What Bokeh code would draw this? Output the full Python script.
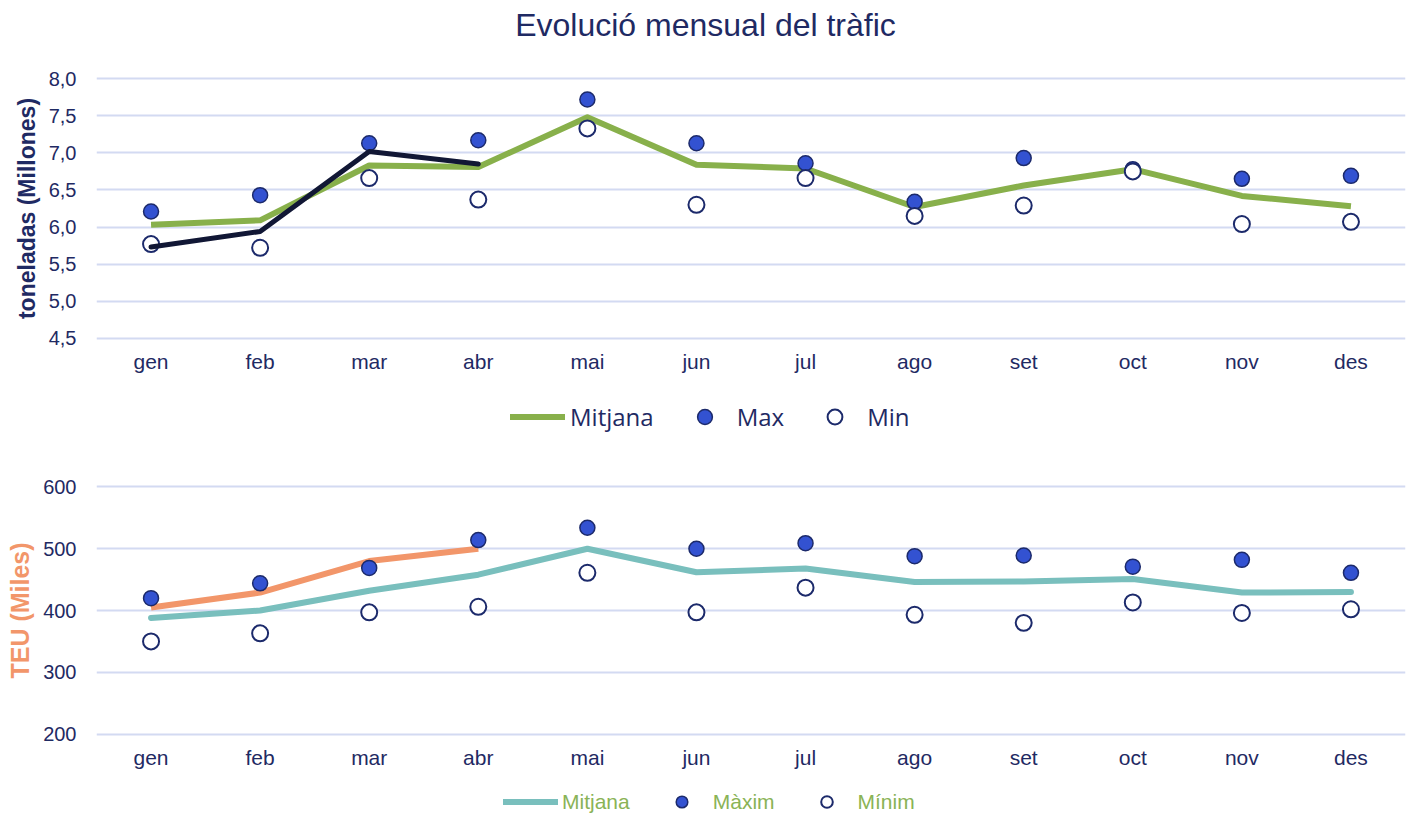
from bokeh.plotting import figure
from bokeh.models import (FactorRange, Range1d, FixedTicker, CustomJSTickFormatter,
                          Legend, LegendItem, Label, ColumnDataSource)
from bokeh.layouts import column
from bokeh.embed import file_html
from bokeh.resources import INLINE

# ---------------- data ----------------
months = ["gen", "feb", "mar", "abr", "mai", "jun", "jul", "ago", "set", "oct", "nov", "des"]

ton_mitjana = [6.03, 6.09, 6.83, 6.81, 7.48, 6.84, 6.79, 6.27, 6.56, 6.78, 6.42, 6.28]
ton_max = [6.21, 6.43, 7.13, 7.17, 7.72, 7.13, 6.86, 6.34, 6.93, 6.78, 6.65, 6.69]
ton_min = [5.77, 5.72, 6.66, 6.37, 7.33, 6.30, 6.66, 6.15, 6.29, 6.75, 6.04, 6.07]
ton_actual = [5.73, 5.94, 7.02, 6.85]
ton_ticks = [4.5, 5.0, 5.5, 6.0, 6.5, 7.0, 7.5, 8.0]

teu_mitjana = [388, 400, 432, 458, 500, 462, 468, 446, 447, 451, 429, 430]
teu_max = [420, 444, 469, 514, 534, 500, 509, 488, 489, 471, 482, 461]
teu_min = [350, 363, 397, 406, 461, 397, 437, 393, 380, 413, 396, 402]
teu_actual = [405, 429, 480, 500]
teu_ticks = [200, 300, 400, 500, 600]

title_text = "Evolució mensual del tràfic"
top_legend = ["Mitjana", "Max", "Min"]
bottom_legend = ["Mitjana", "Màxim", "Mínim"]

# ---------------- style ----------------
NAVY = "#1f2a63"
GRID = "#d3daf2"
GREEN = "#88b04b"
DARKLINE = "#111735"
BLUE = "#3352d1"
MARKER_EDGE = "#1c2a6b"
TEAL = "#79bfbd"
ORANGE = "#f2966a"
LEG_GREEN = "#8ab356"
FONT = "Liberation Sans"
W = 1408
LEFT = 96
RIGHT = 3


def blank(height, xr=(0, 1), yr=(0, 1)):
    f = figure(width=W, height=height, x_range=Range1d(*xr), y_range=Range1d(*yr),
               min_border_left=LEFT, min_border_right=RIGHT, min_border_top=0, min_border_bottom=0,
               x_axis_location=None, y_axis_location=None,
               output_backend="svg", toolbar_location=None, outline_line_color=None,
               background_fill_color="white", border_fill_color="white")
    f.xgrid.visible = False
    f.ygrid.visible = False
    return f


def chart(yr, frame_h, top, bottom):
    return figure(x_range=FactorRange(*months), y_range=Range1d(*yr),
                  width=W, frame_height=frame_h,
                  min_border_left=LEFT, min_border_right=RIGHT,
                  min_border_top=top, min_border_bottom=bottom,
                  output_backend="svg", toolbar_location=None, outline_line_color=None,
                  background_fill_color="white", border_fill_color="white")


def style_axes(p, tick_size, label_size, ylab_size, ylab_standoff):
    for ax in (p.xaxis[0], p.yaxis[0]):
        ax.axis_line_color = None
        ax.major_tick_line_color = None
        ax.minor_tick_line_color = None
        ax.major_label_text_font = FONT
        ax.major_label_text_color = NAVY
    p.xaxis.major_label_text_font_size = label_size
    p.xaxis.major_label_standoff = 3
    p.yaxis.major_label_text_font_size = tick_size
    p.yaxis.major_label_standoff = 14
    p.yaxis.axis_label_text_font = FONT
    p.yaxis.axis_label_text_font_style = "bold"
    p.yaxis.axis_label_text_font_size = ylab_size
    p.yaxis.axis_label_standoff = ylab_standoff
    p.xgrid.grid_line_color = None
    p.ygrid.grid_line_color = GRID
    p.ygrid.grid_line_width = 2


def legend_fig(height, labels, line_color, line_width, font, size, color, loc,
               spacing, standoff, glyph_h):
    f = blank(height)
    # legend swatches only: one point far outside the visible range
    r_line = f.line(x=[-5, -4], y=[-5, -5], line_color=line_color, line_width=line_width, line_cap="round")
    r_max = f.scatter(x=[-5], y=[-5], size=15, fill_color=BLUE, line_color=MARKER_EDGE, line_width=1.5)
    r_min = f.scatter(x=[-5], y=[-5], size=15, fill_color="white", line_color=MARKER_EDGE, line_width=2)
    leg = Legend(items=[LegendItem(label=labels[0], renderers=[r_line]),
                        LegendItem(label=labels[1], renderers=[r_max]),
                        LegendItem(label=labels[2], renderers=[r_min])],
                 orientation="horizontal", location=loc,
                 glyph_width=55, glyph_height=glyph_h, label_standoff=standoff, spacing=spacing,
                 padding=0, margin=0, border_line_color=None, background_fill_alpha=0,
                 label_text_font=font, label_text_font_size=size, label_text_color=color)
    f.add_layout(leg)
    return f


# ---------------- title ----------------
p0 = blank(58, xr=(LEFT, W - RIGHT), yr=(0, 58))
p0.add_layout(Label(x=705, y=34, text=title_text, text_align="center",
                    text_baseline="alphabetic", text_font=FONT, text_font_size="32px",
                    text_color=NAVY))

# ---------------- top chart ----------------
p1 = chart((4.47, 8.03), 264, 18, 50)
style_axes(p1, "20px", "21px", "23px", 6)
p1.yaxis.ticker = FixedTicker(ticks=ton_ticks)
p1.yaxis.formatter = CustomJSTickFormatter(code="return tick.toFixed(1).replace('.', ',');")
p1.yaxis.axis_label = "toneladas (Millones)"
p1.yaxis.axis_label_text_color = NAVY

src1 = ColumnDataSource(dict(m=months, mit=ton_mitjana, mx=ton_max, mn=ton_min))
src1b = ColumnDataSource(dict(m=months[:len(ton_actual)], v=ton_actual))
p1.line("m", "mit", source=src1, line_color=GREEN, line_width=6, line_join="round")
p1.scatter("m", "mx", source=src1, size=15, fill_color=BLUE, line_color=MARKER_EDGE, line_width=1.5)
p1.scatter("m", "mn", source=src1, size=16, fill_color="white", line_color=MARKER_EDGE, line_width=2)
p1.line("m", "v", source=src1b, line_color=DARKLINE, line_width=5, line_cap="round", line_join="round")

pL1 = legend_fig(50, top_legend, GREEN, 6, "Open Sans", "24px", NAVY, (414, 5), 23, 5, 37)

# ---------------- bottom chart ----------------
p2 = chart((196, 604), 252, 44, 39)
style_axes(p2, "20px", "21px", "25px", 6)
p2.yaxis.ticker = FixedTicker(ticks=teu_ticks)
p2.yaxis.axis_label = "TEU (Miles)"
p2.yaxis.axis_label_text_color = ORANGE

src2 = ColumnDataSource(dict(m=months, mit=teu_mitjana, mx=teu_max, mn=teu_min))
src2b = ColumnDataSource(dict(m=months[:len(teu_actual)], v=teu_actual))
p2.line("m", "mit", source=src2, line_color=TEAL, line_width=6, line_cap="round", line_join="round")
p2.line("m", "v", source=src2b, line_color=ORANGE, line_width=6, line_join="round")
p2.scatter("m", "mx", source=src2, size=15, fill_color=BLUE, line_color=MARKER_EDGE, line_width=1.5)
p2.scatter("m", "mn", source=src2, size=16, fill_color="white", line_color=MARKER_EDGE, line_width=2)

pL2 = legend_fig(41, bottom_legend, TEAL, 6, FONT, "21px", LEG_GREEN, (407, 0), 24, 4, 29)

layout = column(p0, p1, pL1, p2, pL2, spacing=0)

open("out.html", "w").write(file_html(layout, INLINE))
